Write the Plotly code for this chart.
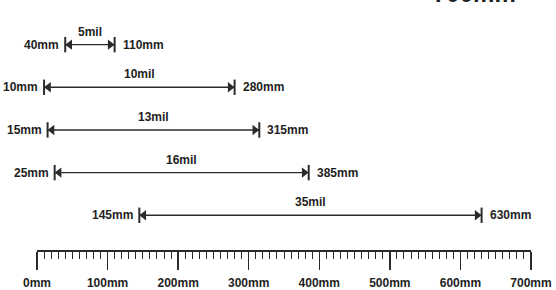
import plotly.graph_objects as go

# ---- data ----
mil_labels = ["5mil", "10mil", "13mil", "16mil", "35mil"]
start_mm = [40, 10, 15, 25, 145]
end_mm = [110, 280, 315, 385, 630]
ruler_ticks = [0, 100, 200, 300, 400, 500, 600, 700]
ruler_labels = [f"{v}mm" for v in ruler_ticks]
half_ticks = [50, 150, 250, 350, 450, 550, 650]
top_text = "700mm"

# ---- layout constants ----
W, H = 556, 290
L, R, T, B = 37, 25, 0, 38
plot_w = W - L - R
plot_h = H - T - B
ppm = plot_w / 700.0          # pixels per mm
row0_px, row_gap_px = 45, 43
y_top = -row0_px / row_gap_px
y_bot = (plot_h - row0_px) / row_gap_px

INK = "#2b2b2b"
FAM = "Liberation Sans, Arial, sans-serif"
FONT = dict(family=FAM, size=12, color="#1e1e1e", weight="bold")

n = len(mil_labels)
rows = list(range(n))

fig = go.Figure()

# shafts
lx, ly = [], []
for i in rows:
    lx += [start_mm[i], end_mm[i], None]
    ly += [i, i, None]
fig.add_trace(go.Scatter(x=lx, y=ly, mode="lines", line=dict(color=INK, width=1.4),
                         hoverinfo="skip", showlegend=False, cliponaxis=False))

# end bars
fig.add_trace(go.Scatter(x=start_mm + end_mm, y=rows + rows, mode="markers",
                         marker=dict(symbol="line-ns", size=11, line=dict(color=INK, width=2)),
                         hoverinfo="skip", showlegend=False, cliponaxis=False))

# arrow heads
off = 4.5 / ppm
fig.add_trace(go.Scatter(x=[s + off for s in start_mm], y=rows, mode="markers",
                         marker=dict(symbol="triangle-left", size=9, color=INK),
                         hoverinfo="skip", showlegend=False, cliponaxis=False))
fig.add_trace(go.Scatter(x=[e - off for e in end_mm], y=rows, mode="markers",
                         marker=dict(symbol="triangle-right", size=9, color=INK),
                         hoverinfo="skip", showlegend=False, cliponaxis=False))

ann = []
for i in rows:
    ann.append(dict(x=start_mm[i], y=i, xref="x", yref="y", text=f"{start_mm[i]}mm",
                    showarrow=False, xanchor="right", yanchor="middle", xshift=-4, font=FONT))
    ann.append(dict(x=end_mm[i], y=i, xref="x", yref="y", text=f"{end_mm[i]}mm",
                    showarrow=False, xanchor="left", yanchor="middle", xshift=6, font=FONT))
    ann.append(dict(x=(start_mm[i] + end_mm[i]) / 2, y=i, xref="x", yref="y", text=mil_labels[i],
                    showarrow=False, xanchor="center", yanchor="middle", yshift=13, font=FONT))

ann.append(dict(x=(474 - L) / plot_w, y=1, xref="paper", yref="paper", text=top_text,
                showarrow=False, xanchor="center", yanchor="bottom", yshift=-9,
                font=dict(family=FAM, size=24, color="#1e1e1e", weight="bold")))

fig.update_layout(
    width=W, height=H,
    margin=dict(l=L, r=R, t=T, b=B, pad=0),
    paper_bgcolor="white", plot_bgcolor="white",
    showlegend=False,
    annotations=ann,
    xaxis=dict(range=[0, 700], showgrid=False, zeroline=False, showline=True,
               linecolor=INK, linewidth=1.5, ticks="outside", ticklen=18, tickwidth=1.5,
               tickcolor=INK, tickmode="array", tickvals=ruler_ticks, ticktext=ruler_labels,
               tickfont=FONT, ticklabelstandoff=3, fixedrange=True,
               minor=dict(dtick=10, tick0=0, ticks="outside", ticklen=7, tickwidth=1, tickcolor=INK)),
    xaxis2=dict(range=[0, 700], overlaying="x", anchor="y", side="bottom", showgrid=False,
                zeroline=False, showline=False, ticks="outside", ticklen=12, tickwidth=1,
                tickcolor=INK, tickmode="array", tickvals=half_ticks, showticklabels=False,
                fixedrange=True),
    yaxis=dict(range=[y_bot, y_top], visible=False, fixedrange=True),
)

fig.write_html("out.html", config={"displayModeBar": False, "staticPlot": True},
               post_script="document.body.style.margin='0';")
